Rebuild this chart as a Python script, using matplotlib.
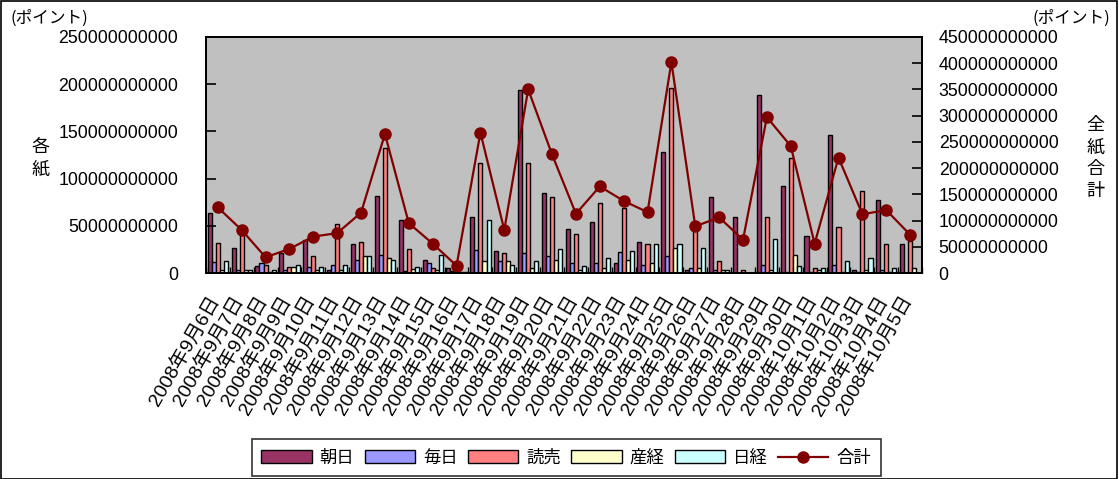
import numpy as np
import matplotlib
matplotlib.use('Agg')
from matplotlib import pyplot as plt
from matplotlib import transforms
from matplotlib.ticker import FixedLocator

plt.rcParams['font.family'] = ['Liberation Sans', 'Noto Sans CJK JP']

dates = ['2008年9月%d日' % d for d in range(6, 31)] + \
	['2008年10月%d日' % d for d in range(1, 6)]

# daily points per paper (units: 1e9)
asahi = [63.5, 27, 7, 21, 35, 3.5, 30.5, 81.5, 56, 14, 5, 59.5, 23.5, 194, 85,
	47, 54.5, 10.5, 32.5, 128.5, 3.5, 80, 59.5, 188.5, 92.5, 39.5, 146.5, 3.5, 77.5, 30.5]
mainichi = [12, 3.5, 10.5, 3, 6, 8.5, 14, 19.5, 2, 10.5, 1.8, 24.5, 12.5, 21, 17.5,
	10.5, 10.5, 22, 9, 17.5, 5.3, 3.5, 0.5, 9, 1, 1, 9, 1, 3.5, 0.3]
yomiuri = [32, 44, 8.5, 6, 18, 52, 32.5, 132, 25, 5, 3, 116, 21, 116, 81,
	41.5, 74, 69, 30.5, 196, 47, 13, 3.5, 59.5, 121.5, 5, 48.5, 86.5, 30.5, 34]
sankei = [3.5, 3.5, 1, 6, 3, 3.5, 17.5, 15.5, 4, 3, 0.7, 12.5, 12.5, 5, 14,
	3, 5, 14, 10.5, 26.5, 5.3, 3.5, 0.3, 3.5, 19.5, 3, 1, 3, 1, 5]
nikkei = [13, 3.5, 3.5, 9, 6, 9, 17.5, 14, 6, 19.5, 1, 56, 8.5, 12.5, 25.5,
	7, 16, 23.5, 30.5, 30.5, 27, 3.5, 0.3, 36, 7, 5, 12.5, 15.5, 5, 0.3]
total = [125, 82, 30, 46, 69.5, 76, 115, 265, 95, 56, 14, 267.5, 82, 350, 226,
	113, 165, 137.5, 116, 402, 89, 106, 63.5, 297, 242, 56, 220, 112, 120, 73]

series = [
	('朝日', asahi, '#993366'),
	('毎日', mainichi, '#9999FF'),
	('読売', yomiuri, '#FF8080'),
	('産経', sankei, '#FFFFCC'),
	('日経', nikkei, '#CCFFFF'),
]

fig = plt.figure(figsize=(11.19, 4.79), dpi=100)
fig.patches.append(plt.Rectangle((0.0005, 0.001), 0.998, 0.997, transform=fig.transFigure,
	fill=False, edgecolor='black', linewidth=1.2))

ax = fig.add_axes([0.184, 0.430, 0.640, 0.493])
ax.set_facecolor('#C0C0C0')
ax2 = ax.twinx()

x = np.arange(len(dates))
w = 0.17
handles = []
for k, (name, vals, col) in enumerate(series):
	h = ax.bar(x + (k - 2) * w, np.array(vals) * 1e9, w, color=col,
		edgecolor='black', linewidth=1.0, label=name)
	handles.append(h)

ln, = ax2.plot(x, np.array(total) * 1e9, color='#800000', linewidth=1.6,
	marker='o', markersize=8, label='合計')
handles.append(ln)

ax.set_xlim(-0.5, len(dates) - 0.5)
ax.set_ylim(0, 250e9)
ax2.set_ylim(0, 450e9)
ax.set_yticks(np.arange(0, 250e9 + 1, 50e9))
ax2.set_yticks(np.arange(0, 450e9 + 1, 50e9))
ax.set_yticklabels(['%d' % v for v in np.arange(0, 250e9 + 1, 50e9)], fontsize=12.8)
ax2.set_yticklabels(['%d' % v for v in np.arange(0, 450e9 + 1, 50e9)], fontsize=12.8)
ax.tick_params(axis='y', direction='in', length=7, width=1.2, pad=20)
ax2.tick_params(axis='y', direction='in', length=7, width=1.2, pad=12)

ax.set_xticks(x)
ax.set_xticklabels(dates, rotation=60, ha='right', rotation_mode='anchor', fontsize=14)
ax.tick_params(axis='x', which='major', length=0, pad=9)
# nudge the slanted date labels down-left
shift = transforms.ScaledTranslation(-0.10, -0.07, fig.dpi_scale_trans)
for lbl in ax.get_xticklabels():
	lbl.set_transform(lbl.get_transform() + shift)
ax.xaxis.set_minor_locator(FixedLocator(np.arange(-0.5, len(dates), 1)))
ax.tick_params(axis='x', which='minor', direction='in', length=4, width=1)

for sp in list(ax.spines.values()) + list(ax2.spines.values()):
	sp.set_linewidth(1.3)
	sp.set_color('black')

fig.text(0.009, 0.962, '(ポイント)', fontsize=12, ha='left', va='center',
	family=['Noto Sans CJK JP'])
fig.text(0.992, 0.962, '(ポイント)', fontsize=12, ha='right', va='center',
	family=['Noto Sans CJK JP'])
fig.text(0.036, 0.67, '各\n紙', fontsize=13, ha='center', va='center',
	linespacing=1.3, family=['Noto Sans CJK JP'])
fig.text(0.979, 0.67, '全\n紙\n合\n計', fontsize=13, ha='center', va='center',
	linespacing=1.3, family=['Noto Sans CJK JP'])

leg = fig.legend(handles=handles, loc='lower center', bbox_to_anchor=(0.506, 0.0),
	ncol=6, frameon=True, fancybox=False, handlelength=2.9,
	handleheight=0.8, columnspacing=0.6, handletextpad=0.45, borderpad=0.55,
	borderaxespad=0.15, prop={'family': ['Noto Sans CJK JP'], 'size': 12.5})
leg.get_frame().set_edgecolor('black')
leg.get_frame().set_linewidth(1.2)

fig.savefig('out.png', dpi=100)
